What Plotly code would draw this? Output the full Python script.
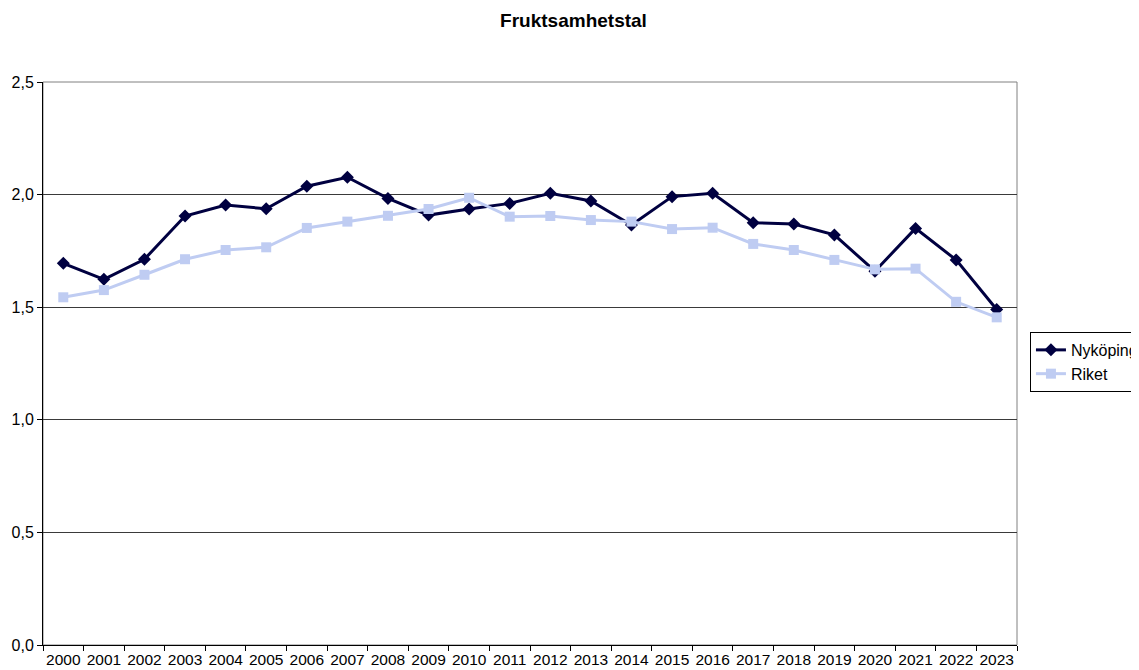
import plotly.graph_objects as go

years = [str(y) for y in range(2000, 2024)]
nykoping = [1.695, 1.624, 1.713, 1.905, 1.954, 1.937, 2.037, 2.077, 1.983, 1.909,
            1.936, 1.961, 2.006, 1.972, 1.865, 1.991, 2.006, 1.875, 1.869, 1.821,
            1.660, 1.850, 1.710, 1.490]
riket = [1.544, 1.576, 1.644, 1.713, 1.754, 1.766, 1.852, 1.880, 1.906, 1.936,
         1.986, 1.902, 1.905, 1.887, 1.880, 1.847, 1.853, 1.781, 1.754, 1.710,
         1.668, 1.671, 1.524, 1.455]
y_ticks = [0.0, 0.5, 1.0, 1.5, 2.0, 2.5]

# page body has an 8px default margin, so the figure is sized/offset to compensate
W, H = 1131, 662

fig = go.Figure()
fig.add_trace(go.Scatter(
    x=years, y=nykoping, name="Nyköping", mode="lines+markers",
    line=dict(color="#000040", width=3),
    marker=dict(symbol="diamond", size=10, color="#000040")))
fig.add_trace(go.Scatter(
    x=years, y=riket, name="Riket", mode="lines+markers",
    line=dict(color="#BFCCF2", width=3),
    marker=dict(symbol="square", size=10, color="#BFCCF2")))

fig.update_layout(
    width=W, height=H,
    paper_bgcolor="white", plot_bgcolor="white",
    margin=dict(l=35, r=122, t=74, b=25, autoexpand=False),
    separators=", ",
    font=dict(family="Liberation Sans, Arial, sans-serif", size=16, color="black"),
    title=dict(text="<b>Fruktsamhetstal</b>", x=0.5, xanchor="center",
               y=1 - 12 / H, yanchor="middle", font=dict(size=19)),
    legend=dict(x=1.0133, xanchor="left", y=0.556, yanchor="top",
                bordercolor="black", borderwidth=1, bgcolor="white",
                font=dict(size=16), tracegroupgap=0,
                itemwidth=30),
    showlegend=True,
)
fig.update_xaxes(
    type="category", categoryorder="array", categoryarray=years,
    range=[-0.5, len(years) - 0.5], automargin=False,
    showline=True, linecolor="black", linewidth=1, mirror=False,
    ticks="outside", ticklen=5, tickcolor="black", tickson="boundaries",
    showgrid=False, tickangle=0, tickfont=dict(size=15.5))
fig.update_yaxes(
    range=[0, 2.5], tickvals=y_ticks, tickformat=".1f", automargin=False,
    showline=True, linecolor="black", linewidth=1,
    ticks="outside", ticklen=5, tickcolor="black",
    showgrid=True, gridcolor="#3a3a3a", gridwidth=1,
    zeroline=False, tickfont=dict(size=16))
# plot area border (top/right)
fig.add_shape(type="rect", xref="paper", yref="paper", x0=0, y0=0, x1=1, y1=1,
              line=dict(color="#808080", width=1), layer="below")

fig.write_html("out.html")
